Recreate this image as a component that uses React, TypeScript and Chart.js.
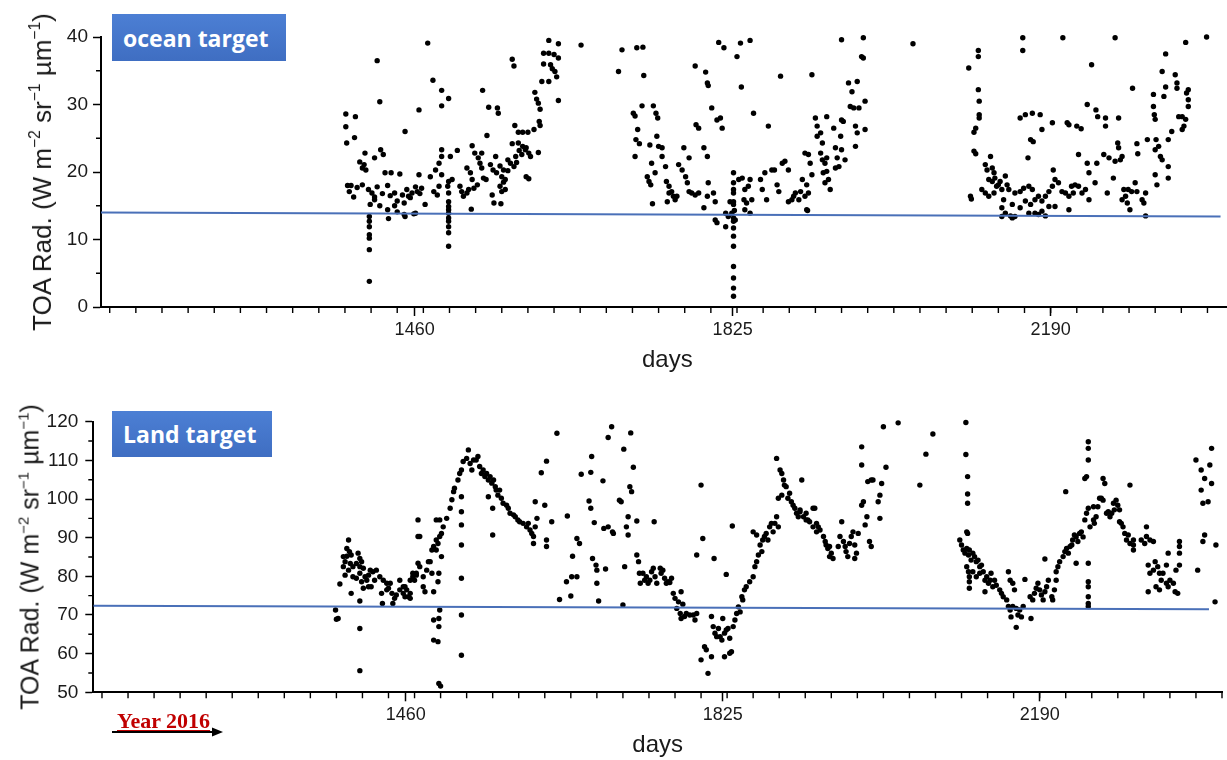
import React, { useEffect, useRef } from "react";
import { Chart, registerables } from "chart.js";

Chart.register(...registerables);

// ---------- axes ----------
const dayTicks = [1460, 1825, 2190];
const dayRange = [1100, 2400];
const oceanYTicks = [0, 10, 20, 30, 40];
const landYTicks = [50, 60, 70, 80, 90, 100, 110, 120];

// ---------- fitted trend lines ----------
const trendDays = [1100, 2385];
const oceanTrend = [14.0, 13.4];
const landTrend = [72.4, 71.5];

// ---------- ocean target ----------
const oceanDays = [
  1381,1392,1381,1382,1391,1417,1420,1449,1465,1403,
  1421,1424,1414,1397,1402,1400,1404,1426,1433,1443,
  1465,1383,1387,1394,1400,1385,1390,1407,1411,1414,
  1417,1423,1429,1432,1437,1440,1446,1451,1455,1461,
  1466,1409,1414,1420,1429,1437,1440,1448,1430,1448,
  1459,1408,1408,1408,1408,1408,1408,1408,
  1475,1481,1491,1491,1499,1538,1545,1555,1556,1543,
  1572,1574,1614,1625,1608,1614,1620,1625,1608,1616,
  1618,1621,1623,1606,1614,1625,1598,1600,1602,1604,
  1651,1603,1604,1597,1590,1584,1579,1575,1572,1579,
  1584,1588,1591,1576,1580,1583,1587,1593,1602,1567,
  1570,1574,1577,1558,1562,1567,1588,1591,1553,1547,
  1550,1554,1560,1564,1562,1558,1560,1564,1549,1551,
  1559,1539,1542,1535,1537,1526,1529,1533,1537,1520,
  1524,1526,1532,1528,1525,1512,1514,1516,1520,1522,
  1509,1501,1491,1491,1488,1484,1478,1499,1503,1498,
  1499,1491,1488,1482,1486,1468,1463,1457,1453,1499,
  1499,1499,1499,1499,1499,1499,1499,1499,1472,1461,
  1449,
  1694,1698,1715,1722,1723,1711,1713,1721,1716,1714,
  1718,1713,1734,1737,1739,1730,1738,1740,1744,1727,
  1729,1731,1732,1736,1733,1744,1748,1749,1752,1752,
  1755,1757,1759,1761,1750,1763,1767,1771,1773,1775,
  1778,1782,1786,1769,1775,1782,1783,1786,1794,1796,
  1797,1792,1796,1797,1801,1807,1811,1813,1792,1803,
  1805,1805,1807,1796,1809,1815,1817,1820,1824,1827,
  1817,1828,1826,1826,1826,1826,1826,1826,1826,1826,
  1826,1826,1826,1826,1826,1826,1826,1822,1830,1834,
  1835,1845,1849,1832,1836,1839,1843,1845,1838,1841,
  1839,1845,1847,1857,1859,1862,1864,1866,1870,1873,
  1876,1878,1880,1882,1885,1889,1889,1893,1895,1897,
  1901,1903,1905,1908,1910,1912,1910,1916,1920,1922,
  1926,1914,
  1912,1916,1908,1911,1922,1928,1926,1928,1931,1929,
  1933,1931,1935,1937,1933,1933,1941,1943,1945,1947,
  1943,1950,1952,1949,1954,1950,1950,1958,1962,1960,
  1964,1968,1970,1966,1968,1966,1975,1973,1975,1977,
  1977,2032,
  2096,2107,2107,2107,2108,2108,2108,2104,2102,2102,
  2104,2098,2099,2121,2115,2117,2123,2125,2119,2123,
  2126,2130,2111,2115,2119,2125,2128,2132,2134,2136,
  2138,2140,2142,2134,2138,2146,2149,2155,2159,2165,
  2169,2144,2149,2155,2161,2167,2172,2176,2180,2184,
  2188,2192,2193,2195,2199,2203,2207,2211,2214,2216,
  2218,2222,2226,2230,2234,2211,2195,2188,2180,2172,
  2165,2176,2184,2134,2146,
  2158,2158,2204,2264,2345,2369,2155,2161,2169,2178,
  2180,2167,2170,2164,2192,2209,2211,2220,2225,2222,
  2232,2234,2241,2243,2242,2244,2253,2253,2268,2251,
  2257,2264,2270,2267,2268,2272,2262,2255,2274,2276,
  2279,2283,2287,2289,2295,2299,2297,2272,2278,2281,
  2299,2232,2237,2284,2289,2290,2301,2308,2308,2309,
  2310,2311,2310,2314,2316,2318,2310,2312,2318,2322,
  2322,2320,2325,2325,2325,2329,2333,2335,2335,2337,
  2341,2345,2341,2343,2346,2348,2348,2348,
];
const oceanValues = [
  28.6,28.2,26.7,24.3,25.1,36.5,30.4,26.0,29.2,22.8,
  23.3,22.6,22.1,21.5,21.1,20.6,20.3,19.9,19.9,19.7,
  19.6,18.0,18.0,17.7,18.1,17.1,16.3,17.4,16.9,16.3,
  17.8,16.8,18.0,16.5,16.9,15.7,16.6,17.4,16.2,17.8,
  16.8,15.2,15.9,15.0,14.4,15.0,14.1,15.4,13.1,13.7,
  13.8,13.4,12.7,11.9,10.7,10.2,8.5,3.8,
  39.1,33.6,32.1,29.8,30.9,32.1,29.6,29.5,28.7,25.4,
  36.7,35.7,39.5,39.0,37.6,37.6,37.4,36.9,36.0,35.9,
  35.3,34.9,34.1,33.4,33.4,30.6,31.8,30.8,30.2,29.3,
  38.8,27.5,26.9,26.3,25.9,25.9,25.9,26.9,24.2,24.3,
  23.8,23.6,22.8,22.3,23.2,22.6,23.3,22.3,22.9,21.8,
  21.3,20.8,21.4,20.9,20.3,20.2,19.3,19.0,22.3,21.1,
  20.3,19.9,19.3,18.9,18.5,17.9,17.1,17.4,16.6,15.4,
  15.3,19.1,18.9,21.3,20.6,23.9,22.8,22.1,22.8,20.6,
  19.9,18.9,18.1,17.6,14.5,17.9,17.1,16.4,16.9,17.4,
  23.2,22.3,23.3,22.3,21.3,20.3,19.3,18.6,18.9,17.9,
  16.9,19.6,17.9,17.1,16.6,17.6,17.1,16.9,16.4,15.6,
  14.9,14.4,13.9,13.2,12.7,11.9,11.0,9.0,15.2,13.9,
  13.4,
  34.9,38.1,38.4,38.5,34.3,28.7,28.3,29.8,26.3,24.8,
  24.2,22.3,29.8,28.7,28.0,24.0,25.3,23.8,23.6,19.3,
  18.6,18.1,21.3,19.9,15.3,22.3,20.8,18.6,17.9,16.9,
  17.1,16.4,15.9,16.4,15.6,21.1,20.3,19.3,18.4,17.1,
  16.9,16.6,16.9,23.6,22.1,35.7,27.0,26.5,34.8,33.2,
  32.8,23.6,22.3,18.4,29.5,27.7,28.0,26.5,14.7,16.9,
  15.6,12.9,12.5,16.4,39.2,38.4,13.9,13.4,13.9,14.3,
  11.9,12.9,19.9,18.4,17.4,16.9,15.6,15.2,13.2,12.7,
  11.7,10.5,9.0,6.0,4.3,2.8,1.6,15.6,37.1,39.1,
  32.6,39.5,28.7,18.9,19.1,17.4,17.9,18.9,15.9,15.4,
  14.4,13.9,15.9,18.9,17.4,19.9,15.9,26.8,20.3,20.3,
  18.1,17.1,34.2,21.3,21.6,20.3,15.6,15.9,16.4,16.9,
  15.9,17.1,18.9,22.8,18.1,16.9,14.4,34.4,28.0,26.8,
  25.8,21.3,
  22.6,19.6,16.4,14.3,25.3,24.3,22.8,21.8,21.3,19.9,
  20.1,18.4,18.9,17.4,22.1,28.2,26.5,23.6,22.1,20.8,
  20.6,27.7,27.5,25.3,21.8,23.3,39.6,33.2,31.9,29.7,
  29.5,33.4,29.5,26.8,25.8,23.8,39.9,37.1,36.9,30.5,
  26.3,39.0,
  35.4,38.0,37.1,32.2,30.5,28.5,28.0,26.5,25.9,23.1,
  22.7,16.4,16.0,22.3,21.1,20.3,20.6,19.9,18.9,18.6,
  19.1,18.1,17.4,16.9,16.4,16.9,17.9,18.6,17.4,15.9,
  19.4,18.1,17.4,14.7,13.9,15.2,16.9,17.1,17.6,17.9,
  17.4,13.5,13.4,14.7,15.7,15.2,15.9,16.4,15.7,16.4,
  17.1,17.9,20.3,18.9,18.4,17.1,16.9,16.4,17.9,16.9,
  18.1,17.9,16.9,17.4,15.9,14.4,14.9,14.9,14.2,13.9,
  13.9,13.7,13.5,13.4,13.2,
  39.9,38.0,39.9,39.9,39.2,40.0,28.0,28.5,28.7,28.5,
  26.3,24.8,24.5,22.1,27.3,27.3,27.0,26.8,26.4,22.6,
  21.3,19.9,18.4,21.3,29.2,28.2,28.0,26.8,28.0,22.6,
  22.1,21.6,21.8,24.3,23.6,22.3,19.1,16.9,17.4,16.4,
  17.4,17.1,18.4,17.1,15.9,16.9,15.4,15.9,15.4,14.4,
  13.5,30.0,35.9,32.4,24.2,22.7,24.8,31.5,29.7,28.5,
  27.8,24.8,23.3,23.8,22.3,21.8,19.6,18.1,34.9,37.5,
  32.6,31.2,24.8,20.8,19.1,26.0,34.4,33.2,32.4,28.2,
  28.2,27.8,26.3,26.8,31.7,30.7,29.7,32.2,
];

// ---------- land target ----------
const landDays = [
  1379,1382,1380,1384,1394,1392,1395,1388,1392,1397,
  1390,1396,1388,1394,1399,1390,1399,1405,1407,1409,
  1403,1407,1411,1407,1403,1409,1413,1415,1417,1419,
  1422,1426,1424,1420,1417,1411,1397,1407,1407,1407,
  1430,1434,1438,1432,1440,1444,1447,1445,1449,1453,
  1457,1453,1459,1463,1465,1468,1472,1474,1474,1474,
  1433,1438,1442,
  1457,1461,1465,1459,1465,1470,1472,1468,1476,1480,
  1480,1482,1484,1488,1490,1492,1486,1476,1490,1492,
  1495,1499,1495,1497,1501,1503,1499,1495,1501,1498,
  1497,1499,1498,1498,1492,1492,1497,1498,1500,
  1507,1511,1513,1515,1516,1520,1522,1524,1526,1530,
  1532,1534,1536,1538,1541,1543,1545,1547,1549,1551,
  1553,1555,1557,1559,1561,1563,1564,1566,1568,1570,
  1572,1576,1578,1580,1584,1586,1589,1591,1595,1599,
  1601,1603,1605,1607,1609,1611,1607,1524,1524,1524,
  1524,1524,1524,1524,1560,1560,1555,
  1609,1620,1622,1622,1616,1622,1628,1634,1637,1645,
  1646,1650,1651,1652,1657,1657,1660,1662,1671,1673,
  1673,1674,1677,1675,1679,1680,1680,1682,1687,1688,
  1690,1693,1693,1697,1698,1699,1706,1708,1710,1711,
  1712,1714,1716,1716,1718,1720,1719,1722,1726,1726,
  1728,1729,1730,1733,1737,1735,1739,1741,1743,1745,
  1746,1747,1749,1753,1754,1756,1758,1760,1762,1764,
  1766,
  1768,1770,1774,1777,1779,1772,1776,1777,1781,1783,
  1787,1791,1793,1795,1800,1802,1795,1800,1804,1806,
  1808,1812,1812,1814,1816,1818,1820,1822,1824,1825,
  1827,1829,1831,1833,1835,1833,1827,1837,1839,1841,
  1843,1845,1847,1848,1850,1852,1856,1860,1862,1864,
  1866,1868,1870,1871,1873,1875,1877,1879,1881,1883,
  1885,1887,1889,1860,1864,1836,1815,1829,1887,1891,
  1893,1895,1896,1898,1900,1902,1904,1906,1908,1910,
  1912,1914,1918,1921,1925,1929,1933,1933,1929,1916,
  1889,1893,
  1914,1921,1923,1931,1935,1937,1941,1943,1944,1946,
  1948,1950,1952,1948,1958,1960,1962,1964,1966,1967,
  1969,1971,1973,1975,1977,1979,1977,1981,1985,1987,
  1989,1991,1992,1996,1998,1994,1996,1985,1985,2004,
  2006,2008,2010,2013,2006,2027,2052,2059,2067,
  2105,2105,2107,2107,2107,2106,2107,2098,2100,2102,
  2104,2106,2108,2109,2111,2113,2115,2117,2119,2121,
  2123,2106,2108,2109,2109,2109,2113,2117,2121,2125,
  2127,2129,2131,2133,2134,2136,2127,2138,2140,2144,
  2146,2148,2154,2156,2159,2161,2152,2154,2156,2159,
  2163,2167,2171,2157,2165,2169,2163,2173,2180,2179,
  2182,2184,2186,2188,2190,2192,2196,2198,2200,2194,
  2204,2205,2207,2209,2196,2209,2211,2213,2217,2219,
  2221,2223,2225,2227,2228,2230,2232,2234,2232,2236,
  2238,2240,2242,2244,2246,2248,2252,2253,2255,2252,
  2257,2259,2261,2263,2265,2263,2267,2269,2271,2273,
  2275,2276,2278,2280,2282,2282,2284,2286,2288,2290,
  2294,2298,2292,2298,2294,2220,2244,2242,2246,2246,
  2246,2246,2246,2246,2246,2246,2246,
  2313,2313,2317,2321,2315,2317,2321,2323,2326,2328,
  2330,2324,2328,2332,2336,2338,2340,2344,2346,2349,
  2351,2351,2351,2351,2347,2315,2336,2370,2372,2376,
  2376,2378,2378,2380,2380,2384,2386,2388,2388,2393,
  2392,2338,2307,2311,2298,
];
const landValues = [
  71.3,69.1,68.9,78.0,89.4,87.2,86.4,85.1,85.2,85.5,
  83.8,83.3,82.5,81.6,82.5,80.3,79.9,86.0,84.6,83.8,
  83.3,82.5,82.1,80.8,79.5,78.6,79.9,79.0,80.3,81.6,
  81.2,81.6,79.0,77.3,77.3,76.9,75.6,73.6,66.5,55.6,
  79.9,79.0,78.2,75.6,76.9,75.6,74.3,73.0,75.2,76.5,
  75.6,79.0,77.3,74.7,79.0,79.9,80.8,90.3,94.6,83.4,
  73.0,76.5,78.2,
  77.3,76.5,75.6,74.7,74.3,79.0,80.3,80.8,82.5,79.9,
  77.3,76.0,81.6,83.8,80.8,76.0,83.8,90.3,86.8,87.7,
  89.4,90.3,86.8,88.5,91.1,92.8,94.6,94.6,85.1,80.8,
  78.6,71.3,69.1,67.0,68.7,63.5,63.1,52.3,51.6,
  95.0,97.6,99.8,101.9,102.8,104.9,106.6,107.5,109.7,110.5,
  112.7,109.2,107.5,110.1,110.1,111.0,108.4,106.6,107.5,105.8,
  106.6,104.9,105.8,104.1,104.9,103.2,102.3,101.0,102.3,100.2,
  98.9,98.4,97.6,96.3,95.9,95.4,94.6,94.1,93.7,92.8,
  93.7,92.0,91.1,90.3,92.8,95.0,88.5,100.6,96.7,93.3,
  88.1,79.5,70.0,59.6,97.6,90.7,100.6,
  99.3,98.4,89.4,87.7,106.8,109.8,94.1,117.0,74.0,78.6,
  95.6,74.9,79.9,85.2,79.9,89.8,88.5,106.4,99.5,106.9,
  97.6,111.0,93.9,84.6,82.9,81.6,78.2,73.6,104.7,92.4,
  81.9,92.8,115.9,118.7,91.5,91.1,99.7,99.3,72.6,112.9,
  82.5,92.8,95.4,90.7,103.2,101.9,117.1,108.2,94.3,85.5,
  83.8,80.8,78.2,80.8,79.9,79.0,78.2,79.0,81.2,82.1,
  94.1,79.9,78.2,82.1,80.8,81.6,79.5,78.2,78.6,78.4,
  79.5,
  75.6,74.3,73.4,76.0,72.8,71.7,70.4,69.1,69.6,70.4,
  70.0,70.0,68.7,70.4,103.6,89.8,85.5,58.4,61.8,61.0,
  54.9,59.2,69.6,67.0,65.3,64.4,66.5,64.4,63.5,69.1,
  65.3,66.1,66.5,64.0,60.5,60.1,59.2,67.0,68.7,70.4,
  72.1,70.8,74.7,73.9,76.5,77.3,78.6,79.9,82.5,83.8,
  85.5,88.1,86.4,89.4,90.3,91.1,89.4,92.8,93.7,91.5,
  93.7,95.4,92.8,91.5,90.7,93.0,84.6,80.5,110.5,107.5,
  106.6,104.9,103.6,103.2,100.2,101.5,99.3,98.4,97.6,96.3,
  95.4,96.7,95.4,94.6,94.1,92.8,93.7,91.5,97.6,104.9,
  100.2,101.0,
  97.2,96.3,94.6,97.6,92.8,92.0,90.3,89.0,88.1,87.2,
  87.7,86.0,84.6,85.1,87.7,90.3,94.1,89.0,87.7,86.4,
  85.1,88.5,90.3,91.5,88.1,86.0,84.6,91.1,98.4,99.3,
  93.3,95.4,104.5,104.9,104.9,89.0,87.7,108.8,113.5,99.3,
  95.0,104.0,118.7,108.2,101.0,119.7,103.6,111.6,116.8,
  119.8,111.5,105.8,101.3,98.9,91.5,91.1,89.4,88.1,86.8,
  86.0,87.2,85.5,86.8,84.2,86.0,85.1,83.8,84.2,82.5,
  82.9,82.5,81.2,79.9,78.6,76.9,81.2,79.9,80.8,81.2,
  79.0,79.9,78.2,79.0,80.8,77.3,76.0,79.0,77.7,76.5,
  75.6,74.7,81.2,79.0,78.2,76.5,73.9,72.2,71.3,72.2,
  71.7,71.3,72.2,69.5,70.0,69.5,66.8,79.2,69.1,74.7,
  73.9,75.6,76.9,78.2,76.5,75.2,76.0,77.3,79.0,73.9,
  74.7,73.9,76.5,79.0,84.5,81.2,82.5,83.8,85.1,86.4,
  87.2,86.0,87.7,88.1,89.4,90.7,90.2,89.0,83.4,91.1,
  91.5,90.2,94.6,96.3,97.6,92.8,94.6,93.7,95.4,98.0,
  98.0,100.2,100.2,99.7,104.0,105.3,96.3,96.7,95.4,96.3,
  98.9,97.2,99.7,98.4,97.2,94.1,93.7,92.8,91.1,89.4,
  88.5,88.1,90.7,86.8,103.6,101.9,105.8,105.3,114.8,113.1,
  110.1,83.4,78.6,77.3,74.7,73.0,72.2,
  92.8,90.3,89.4,89.0,82.9,80.8,81.6,83.8,82.5,80.8,
  79.0,77.3,76.5,80.8,78.2,77.3,79.0,78.2,76.0,75.6,
  89.0,87.7,86.0,82.9,81.6,76.0,82.9,110.1,81.6,107.5,
  102.3,98.9,89.0,90.7,105.3,99.3,108.8,113.1,104.0,88.1,
  73.4,86.0,89.4,88.5,89.4,
];

const SANS = "'Liberation Sans', Arial, Helvetica, sans-serif";
const TEXT = "#1a1a1a";

const minorTicks = {
  id: "minorTicks",
  afterDraw(chart: any) {
    const { ctx } = chart;
    const x = chart.scales.x;
    const y = chart.scales.y;
    ctx.save();
    ctx.strokeStyle = "#000";
    ctx.lineWidth = 1.4;
    ctx.beginPath();
    for (let d = Math.ceil(x.min / 30) * 30; d <= x.max; d += 30) {
      const px = x.getPixelForValue(d);
      ctx.moveTo(px, x.top);
      ctx.lineTo(px, x.top + 6);
    }
    for (let v = y.min + 5; v < y.max; v += 10) {
      const py = y.getPixelForValue(v);
      ctx.moveTo(x.left, py);
      ctx.lineTo(x.left - 5, py);
    }
    ctx.stroke();
    ctx.restore();
  },
};

function makeConfig(days: number[], values: number[], trend: number[], yTicks: number[], g: any) {
  const pts = days.map((d, i) => ({ x: d, y: values[i] }));
  const line = trendDays.map((d, i) => ({ x: d, y: trend[i] }));
  return {
    type: "scatter",
    data: {
      datasets: [
        { data: line, showLine: true, borderColor: "#4a70b8", borderWidth: 2, pointRadius: 0, fill: false },
        {
          data: pts,
          pointRadius: 2.7,
          pointBorderWidth: 0,
          backgroundColor: "#000",
          borderColor: "#000",
          clip: false,
        },
      ],
    },
    options: {
      responsive: false,
      animation: false,
      events: [],
      layout: { padding: { left: 0, top: g.top, right: g.right, bottom: 0 } },
      plugins: { legend: { display: false }, tooltip: { enabled: false } },
      scales: {
        x: {
          type: "linear",
          min: dayRange[0],
          max: dayRange[1],
          afterBuildTicks: (s: any) => {
            s.ticks = dayTicks.map((v) => ({ value: v }));
          },
          afterFit: (s: any) => {
            s.height = g.xHeight;
          },
          ticks: {
            autoSkip: false,
            maxRotation: 0,
            padding: 3,
            color: TEXT,
            font: { family: SANS, size: 18 },
            callback: (v: any) => String(v),
          },
          grid: { drawOnChartArea: false, drawTicks: true, tickLength: 9, tickWidth: 1.5, tickColor: "#000" },
          border: { display: true, color: "#000", width: 2 },
          title: {
            display: true,
            text: "days",
            color: TEXT,
            font: { family: SANS, size: 24 },
            padding: { top: 0, bottom: g.titlePad },
          },
        },
        y: {
          type: "linear",
          min: yTicks[0],
          max: yTicks[yTicks.length - 1],
          afterBuildTicks: (s: any) => {
            s.ticks = yTicks.map((v) => ({ value: v }));
          },
          afterFit: (s: any) => {
            s.width = g.left;
          },
          ticks: { padding: g.yPad, color: TEXT, font: { family: SANS, size: 19 }, callback: (v: any) => String(v) },
          grid: { drawOnChartArea: false, drawTicks: true, tickLength: 8, tickWidth: 1.5, tickColor: "#000" },
          border: { display: true, color: "#000", width: 2 },
        },
      },
    },
    plugins: [minorTicks],
  };
}

function YTitle({ cx, cy, size }: { cx: number; cy: number; size: number }) {
  const sup = { fontSize: "0.6em", verticalAlign: "0.7em", lineHeight: 0 } as any;
  return (
    <div
      style={{
        position: "absolute",
        left: cx,
        top: cy,
        transform: "translate(-50%, -50%) rotate(-90deg)",
        whiteSpace: "nowrap",
        fontFamily: SANS,
        fontSize: size,
        color: TEXT,
        lineHeight: 1,
      }}
    >
      TOA Rad. (W m<span style={sup}>−2</span> sr<span style={sup}>−1</span> µm<span style={sup}>−1</span>)
    </div>
  );
}

function TagBox({ left, top, width, height, text }: any) {
  return (
    <div
      style={{
        position: "absolute",
        left,
        top,
        width,
        height,
        boxSizing: "border-box",
        paddingLeft: 11,
        display: "flex",
        alignItems: "center",
        background: "linear-gradient(180deg, #4c7fd4 0%, #3f6ec2 100%)",
        color: "#fff",
        fontFamily: "'Open Sans', Lato, sans-serif",
        fontWeight: 700,
        fontSize: 23,
        whiteSpace: "nowrap",
      }}
    >
      {text}
    </div>
  );
}

export default function App() {
  const topRef = useRef<HTMLCanvasElement>(null);
  const botRef = useRef<HTMLCanvasElement>(null);

  useEffect(() => {
    const c1 = new Chart(
      topRef.current as HTMLCanvasElement,
      makeConfig(oceanDays, oceanValues, oceanTrend, oceanYTicks, {
        top: 37,
        right: 6.4,
        left: 101,
        xHeight: 73,
        titlePad: 5.6,
        yPad: 5,
      }) as any
    );
    const c2 = new Chart(
      botRef.current as HTMLCanvasElement,
      makeConfig(landDays, landValues, landTrend, landYTicks, {
        top: 41.7,
        right: 5,
        left: 93.3,
        xHeight: 67.7,
        titlePad: 0.6,
        yPad: 7,
      }) as any
    );
    return () => {
      c1.destroy();
      c2.destroy();
    };
  }, []);

  return (
    <div
      style={{
        position: "fixed",
        left: 0,
        top: 0,
        width: 1227,
        height: 760,
        overflow: "hidden",
        background: "#fff",
      }}
    >
      <canvas ref={topRef} width={1240} height={380} style={{ position: "absolute", left: 0, top: 0, width: 1240, height: 380 }} />
      <canvas ref={botRef} width={1227} height={380} style={{ position: "absolute", left: 0, top: 380, width: 1227, height: 380 }} />
      <YTitle cx={42} cy={171.5} size={26} />
      <YTitle cx={30} cy={556.5} size={25} />
      <TagBox left={112} top={14} width={174} height={47} text="ocean target" />
      <TagBox left={112} top={411} width={160} height={46} text="Land target" />
      <div
        style={{
          position: "absolute",
          left: 117,
          top: 709,
          fontFamily: "'Liberation Serif', 'Times New Roman', serif",
          fontWeight: 700,
          fontSize: 22,
          lineHeight: "24px",
          color: "#c00000",
          textDecoration: "underline",
          whiteSpace: "nowrap",
        }}
      >
        Year 2016
      </div>
      <svg style={{ position: "absolute", left: 110, top: 726 }} width={116} height={12}>
        <line x1={2} y1={6} x2={104} y2={6} stroke="#000" strokeWidth={2} />
        <polygon points="102,1.5 113,6 102,10.5" fill="#000" />
      </svg>
    </div>
  );
}
